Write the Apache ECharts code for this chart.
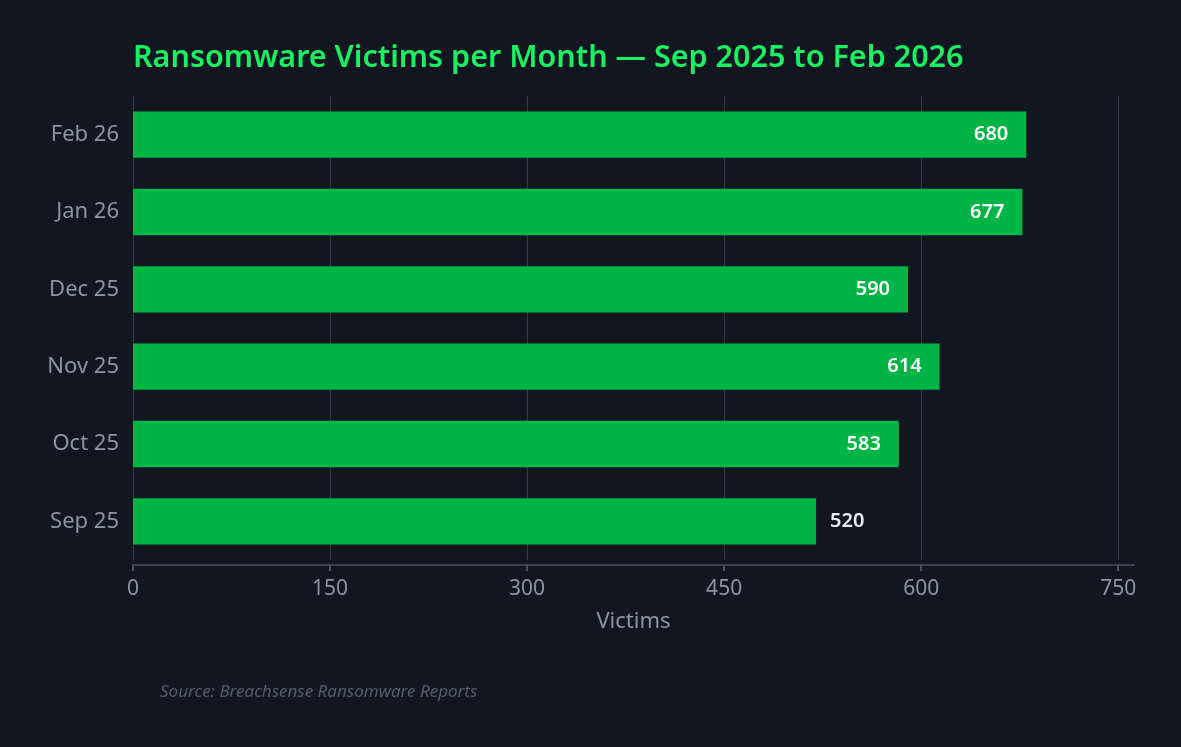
<!doctype html>
<html lang="en">
<head>
<meta charset="UTF-8">
<title>Ransomware Victims per Month</title>
<script src="https://cdn.jsdelivr.net/npm/echarts@6/dist/echarts.min.js"></script>
<style>
  html, body { margin: 0; padding: 0; background: #121620; }
  #chart { width: 1181px; height: 747px; }
</style>
</head>
<body>
<div id="chart"></div>
<script>
// data, bottom to top
var months = ['Sep 25', 'Oct 25', 'Nov 25', 'Dec 25', 'Jan 26', 'Feb 26'];
var victims = [520, 583, 614, 590, 677, 680];
var xTicks = [0, 150, 300, 450, 600, 750];

var chart = echarts.init(document.getElementById('chart'));

var font = '"Noto Sans", "Open Sans", sans-serif';

chart.setOption({
    backgroundColor: '#121620',
    animation: false,
    title: {
        text: 'Ransomware Victims per Month \u2014 Sep 2025 to Feb 2026',
        left: 128,
        top: 38,
        textStyle: { color: '#19f062', fontSize: 30.5, fontWeight: 600, fontFamily: font }
    },
    graphic: [{
        type: 'text',
        left: 160,
        top: 684,
        style: {
            text: 'Source: Breachsense Ransomware Reports',
            fill: '#525d6b',
            font: 'italic 17px ' + font
        }
    }],
    grid: { left: 133, right: 47, top: 96, bottom: 187 },
    xAxis: {
        type: 'value',
        min: 0,
        max: 762,
        interval: 150,
        offset: 5,
        name: 'Victims',
        nameLocation: 'middle',
        nameGap: 46,
        nameTextStyle: { color: '#8a95a4', fontSize: 22, fontFamily: font },
        axisLine: { show: true, lineStyle: { color: '#3a4450', width: 2 } },
        axisTick: { show: true, length: 6, customValues: xTicks, lineStyle: { color: '#4a5461', width: 2 } },
        axisLabel: { color: '#8a95a4', fontSize: 21, margin: 14, fontFamily: font,
                     customValues: xTicks },
        splitLine: { show: true, lineStyle: { color: '#353b46', width: 1 } }
    },
    yAxis: {
        type: 'category',
        data: months,
        axisLine: { show: false },
        axisTick: { show: false },
        axisLabel: { color: '#8a95a4', fontSize: 22, margin: 14, fontFamily: font },
        splitLine: { show: false }
    },
    series: [{
        type: 'bar',
        data: victims.map(function (v) {
            var inside = v >= 550;
            return {
                value: v,
                label: {
                    position: inside ? 'insideRight' : 'right',
                    distance: inside ? 18 : 14,
                    color: inside ? '#ffffff' : '#e6edf3'
                }
            };
        }),
        barCategoryGap: '40%',
        itemStyle: { color: '#00b545' },
        label: {
            show: true,
            fontSize: 20,
            fontWeight: 600,
            fontFamily: font
        }
    }]
});
</script>
</body>
</html>
